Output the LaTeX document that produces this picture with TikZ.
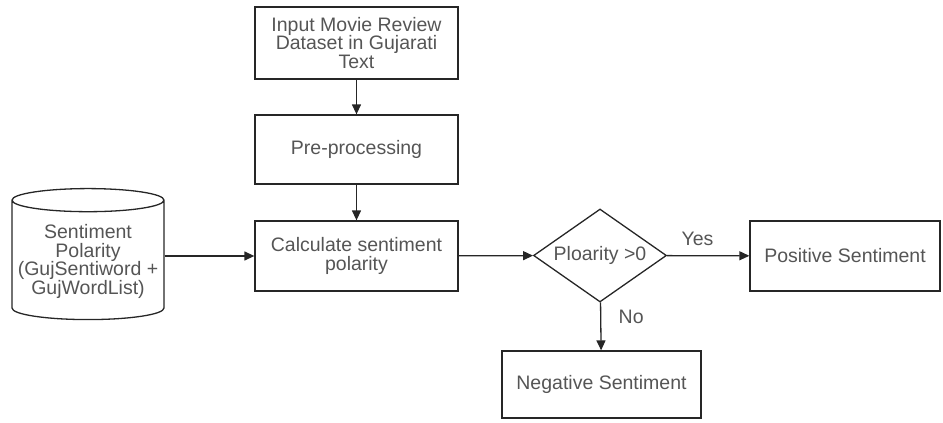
\documentclass[tikz,border=0pt]{standalone}
\usepackage{fontspec}
\setmainfont{Liberation Sans}
\usetikzlibrary{arrows.meta,shapes.geometric}
\definecolor{linegray}{HTML}{262626}
\definecolor{textgray}{HTML}{555555}
\tikzset{
  flowbox/.style={draw=linegray,line width=1.3pt,rectangle,align=center,
    text=textgray,font=\fontsize{19.5}{18.5}\selectfont,inner sep=2pt},
  flowline/.style={draw=linegray,line width=1.3pt,-{Triangle[length=10pt,width=9pt]}},
  flowlabel/.style={text=textgray,font=\fontsize{19.5}{18.5}\selectfont}
}
\begin{document}
\begin{tikzpicture}[x=1pt,y=-1pt]
  \useasboundingbox (0,0) rectangle (943,423);

  \node[flowbox,minimum width=203pt,minimum height=72pt] (input) at (356.5,43)
    {Input Movie Review\\Dataset in Gujarati\\Text};
  \node[flowbox,minimum width=203pt,minimum height=69pt] (prep) at (356.5,149.5)
    {Pre-processing};
  \node[flowbox,minimum width=203pt,minimum height=70pt] (calc) at (356.5,256)
    {Calculate sentiment\\polarity};

  % database of polarity words
  \node[flowbox,cylinder,shape border rotate=90,shape aspect=0.16,
        minimum width=152pt,minimum height=131pt] (polarity) at (88,261.5)
    {Sentiment\\Polarity\\(GujSentiword +\\GujWordList)};

  \node[flowbox,diamond,aspect=1.43,minimum width=133pt,minimum height=93pt,
        inner sep=0pt] (check) at (600,255.5) {Ploarity >0};

  \node[flowbox,minimum width=190pt,minimum height=70pt] (pos) at (845,256)
    {Positive Sentiment};
  \node[flowbox,minimum width=199pt,minimum height=67pt] (neg) at (601.5,384.5)
    {Negative Sentiment};

  \draw[flowline] (input) -- (prep);
  \draw[flowline] (prep) -- (calc);
  \draw[flowline] (polarity.east |- calc.west) -- (calc.west);
  \draw[flowline] (calc) -- (check);
  \draw[flowline] (check) -- (pos) node[flowlabel,pos=0.37,above=6pt] {Yes};
  \draw[flowline] (check) -- (neg) node[flowlabel,pos=0.3,right=14pt] {No};
\end{tikzpicture}
\end{document}
